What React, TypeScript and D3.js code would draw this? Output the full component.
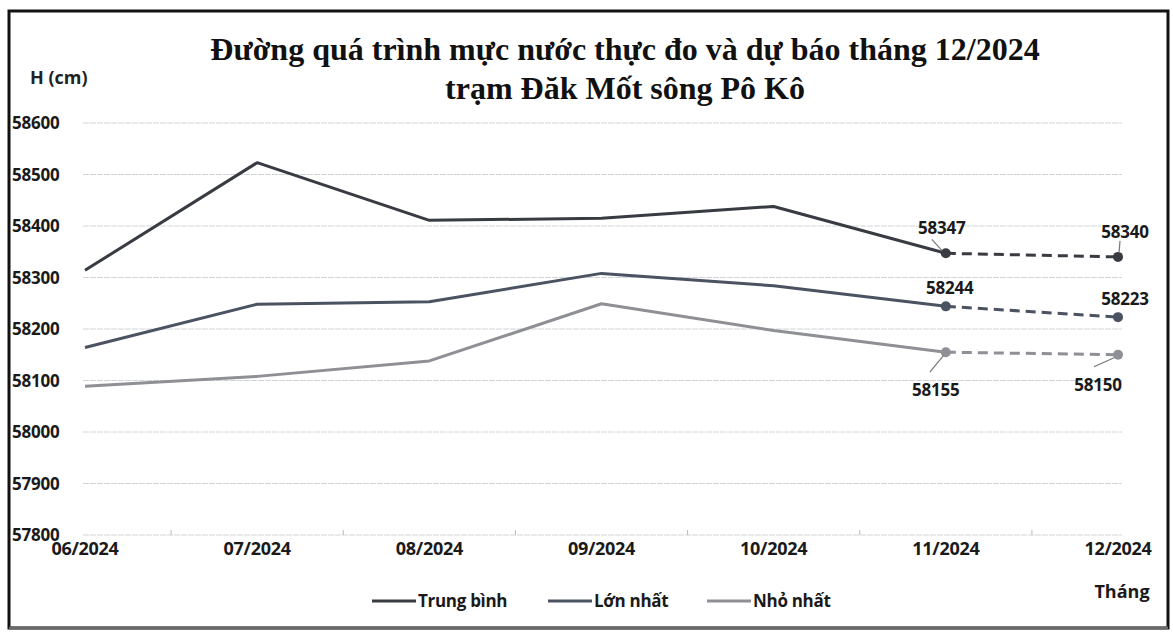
import React from "react";
import * as d3 from "d3";

const months = ["06/2024", "07/2024", "08/2024", "09/2024", "10/2024", "11/2024", "12/2024"];
const trungBinh = [58314, 58523, 58411, 58415, 58438, 58347, 58340];
const lonNhat = [58164, 58248, 58253, 58308, 58284, 58244, 58223];
const nhoNhat = [58089, 58108, 58138, 58249, 58197, 58155, 58150];
const yTicks = [57800, 57900, 58000, 58100, 58200, 58300, 58400, 58500, 58600];
const seriesNames = ["Trung bình", "Lớn nhất", "Nhỏ nhất"];
const titleLines = ["Đường quá trình mực nước thực đo và dự báo tháng 12/2024", "trạm Đăk Mốt sông Pô Kô"];

const W = 1173, H = 633;
const colors = ["#383b42", "#4b5261", "#8e9096"];

export default function App() {
  const x = d3.scalePoint<string>().domain(months).range([85, 1118]);
  const y = d3.scaleLinear().domain([57800, 58600]).range([535, 123]);
  const all = [trungBinh, lonNhat, nhoNhat];
  const solid = d3.line<number>().x((_, i) => x(months[i])!).y(d => y(d));
  const sans = "'Open Sans', 'DejaVu Sans', sans-serif";
  const labels = [
    { v: trungBinh[5], i: 5, dx: -4, dy: -19, lead: [[-14, -14], [-4, -3]] },
    { v: trungBinh[6], i: 6, dx: 7, dy: -19, lead: [[2, -16], [1, -4]] },
    { v: lonNhat[5], i: 5, dx: 4, dy: -12, lead: null },
    { v: lonNhat[6], i: 6, dx: 7, dy: -12, lead: null },
    { v: nhoNhat[5], i: 5, dx: -10, dy: 44, lead: [[-16, 20], [-2, 3]] },
    { v: nhoNhat[6], i: 6, dx: -20, dy: 36, lead: [[-24, 12], [-4, 3]] },
  ];
  return (
    <svg width={W} height={H} style={{ position: "absolute", left: 0, top: 0, background: "#fff" }}>
      <rect x={9} y={11} width={1159} height={617} fill="#fff" stroke="#111" strokeWidth={3} />
      <line x1={9} y1={628} x2={1168} y2={628} stroke="#6a6a6a" strokeWidth={3} />
      {titleLines.map((t, i) => (
        <text key={i} x={625} y={60 + i * 39} textAnchor="middle" fontFamily="'Liberation Serif', 'Times New Roman', serif" fontWeight="bold" fontSize={32} fill="#111">{t}</text>
      ))}
      <text x={30} y={84} fontFamily={sans} fontWeight="bold" fontSize={18} fill="#222">H (cm)</text>
      {yTicks.map(t => (
        <g key={t}>
          <line x1={83} x2={1122} y1={y(t)} y2={y(t)} stroke="#d0d4d6" strokeWidth={1} strokeDasharray="6,1" />
          <text x={12} y={y(t) + 6} fontFamily={sans} fontWeight="bold" fontSize={17} fill="#1a1a1a" letterSpacing={-0.2}>{t}</text>
        </g>
      ))}
      {months.slice(0, -1).map((m, i) => {
        const xm = (x(m)! + x(months[i + 1])!) / 2;
        return <line key={m} x1={xm} x2={xm} y1={535} y2={530} stroke="#bbb" />;
      })}
      {months.map(m => (
        <text key={m} x={x(m)} y={555} textAnchor="middle" fontFamily={sans} fontWeight="bold" fontSize={18} fill="#1a1a1a" letterSpacing={-0.3}>{m}</text>
      ))}
      <text x={1122} y={598} textAnchor="middle" fontFamily={sans} fontWeight="bold" fontSize={18} fill="#1a1a1a">Tháng</text>
      {all.map((s, k) => (
        <g key={k}>
          <path d={solid(s.slice(0, 6))!} fill="none" stroke={colors[k]} strokeWidth={3} strokeLinejoin="round" />
          <path d={`M${x(months[5])},${y(s[5])}L${x(months[6])},${y(s[6])}`} fill="none" stroke={colors[k]} strokeWidth={3} strokeDasharray="10,6" />
          {[5, 6].map(i => (
            <circle key={i} cx={x(months[i])} cy={y(s[i])} r={5} fill={colors[k]} />
          ))}
        </g>
      ))}
      {labels.map((l, j) => {
        const px = x(months[l.i])!, py = y(l.v);
        return (
          <g key={j}>
            {l.lead && <line x1={px + l.lead[0][0]} y1={py + l.lead[0][1]} x2={px + l.lead[1][0]} y2={py + l.lead[1][1]} stroke="#777" strokeWidth={1.2} />}
            <text x={px + l.dx} y={py + l.dy} textAnchor="middle" fontFamily={sans} fontWeight="bold" fontSize={17} fill="#1a1a1a" letterSpacing={-0.2}>{l.v}</text>
          </g>
        );
      })}
      {seriesNames.map((n, k) => {
        const lx = [372, 548, 707][k];
        return (
          <g key={n}>
            <line x1={lx} x2={lx + 44} y1={601} y2={601} stroke={colors[k]} strokeWidth={3} />
            <text x={lx + 46} y={607} fontFamily={sans} fontWeight="bold" fontSize={17} fill="#1a1a1a" letterSpacing={-0.3}>{n}</text>
          </g>
        );
      })}
    </svg>
  );
}
